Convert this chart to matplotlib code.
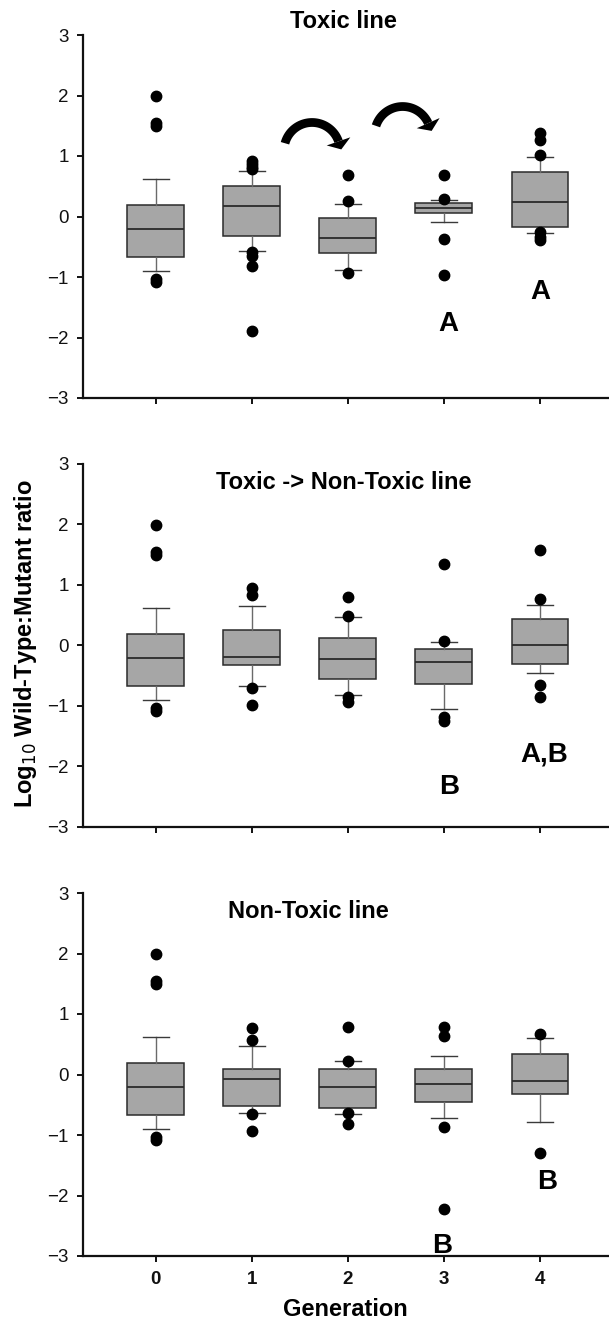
import numpy as np
import matplotlib.pyplot as plt

plt.rcParams['font.family'] = ['Liberation Sans', 'DejaVu Sans']

# Data
GENERATIONS = [0, 1, 2, 3, 4]
Y_TICKS = [-3, -2, -1, 0, 1, 2, 3]

TOX_MED = [-0.20, 0.18, -0.36, 0.14, 0.24]
TOX_Q1 = [-0.67, -0.33, -0.60, 0.05, -0.17]
TOX_Q3 = [0.19, 0.50, -0.02, 0.23, 0.74]
TOX_WLO = [-0.90, -0.57, -0.88, -0.09, -0.27]
TOX_WHI = [0.62, 0.75, 0.20, 0.27, 0.98]
TOX_OUT = [[1.99, 1.54, 1.50, -1.04, -1.09],
           [0.91, 0.86, 0.81, 0.78, -0.58, -0.66, -0.81, -1.90],
           [0.68, 0.25, -0.93],
           [0.69, 0.29, -0.37, -0.96],
           [1.38, 1.27, 1.01, -0.26, -0.34, -0.39]]

TNT_MED = [-0.20, -0.19, -0.22, -0.28, 0.01]
TNT_Q1 = [-0.67, -0.33, -0.56, -0.64, -0.30]
TNT_Q3 = [0.19, 0.25, 0.12, -0.06, 0.43]
TNT_WLO = [-0.90, -0.67, -0.81, -1.05, -0.45]
TNT_WHI = [0.62, 0.65, 0.47, 0.06, 0.67]
TNT_OUT = [[1.99, 1.54, 1.50, -1.04, -1.09],
           [0.95, 0.84, -0.71, -0.98],
           [0.80, 0.49, -0.85, -0.94],
           [1.34, 0.07, -1.19, -1.25],
           [1.58, 0.77, -0.66, -0.85]]

NT_MED = [-0.20, -0.08, -0.20, -0.15, -0.10]
NT_Q1 = [-0.67, -0.52, -0.55, -0.46, -0.33]
NT_Q3 = [0.19, 0.09, 0.09, 0.09, 0.34]
NT_WLO = [-0.90, -0.63, -0.66, -0.72, -0.79]
NT_WHI = [0.62, 0.47, 0.22, 0.30, 0.60]
NT_OUT = [[1.99, 1.54, 1.50, -1.04, -1.09],
          [0.77, 0.57, -0.66, -0.93],
          [0.79, 0.22, -0.64, -0.82],
          [0.79, 0.63, -0.87, -2.23],
          [0.67, -1.29]]

PANELS = [
    ("Toxic line", TOX_MED, TOX_Q1, TOX_Q3, TOX_WLO, TOX_WHI, TOX_OUT),
    ("Toxic -> Non-Toxic line", TNT_MED, TNT_Q1, TNT_Q3, TNT_WLO, TNT_WHI, TNT_OUT),
    ("Non-Toxic line", NT_MED, NT_Q1, NT_Q3, NT_WLO, NT_WHI, NT_OUT),
]

# letter annotations: (panel, x, y, text)
LETTERS = [
    (0, 3.05, -1.90, "A"), (0, 4.00, -1.36, "A"),
    (1, 3.06, -2.46, "B"), (1, 4.05, -1.92, "A,B"),
    (2, 2.98, -2.95, "B"), (2, 4.08, -1.90, "B"),
]
# title anchor (x, baseline y) per panel
TITLE_POS = [(1.96, 3.12), (1.96, 2.58), (1.59, 2.58)]
# curved arrows in the toxic panel: (centre in data, start angle, end angle)
ARROW_CENTRES = [(1.628, 1.091), (2.571, 1.355)]
ARROW_START = [165, 162]
ARROW_END = [19, 24]
ARROW_R = 28      # px
HEAD_LEN = 8.5    # px
HEAD_W = 25       # px

W, H = 609, 1320
fig = plt.figure(figsize=(W / 100, H / 100), dpi=100)

# axes pixel extents: left, top, bottom
LEFT_PX = 82.7
AX_PX = [(35, 398), (464, 827), (893, 1256)]

axes = []
for i, (title, med, q1, q3, wlo, whi, out) in enumerate(PANELS):
    top, bot = AX_PX[i]
    ax = fig.add_axes([LEFT_PX / W, 1 - bot / H, 1 - LEFT_PX / W, (bot - top) / H])
    stats = []
    for g in range(len(GENERATIONS)):
        stats.append(dict(med=med[g], q1=q1[g], q3=q3[g],
                          whislo=wlo[g], whishi=whi[g], fliers=out[g]))
    ax.bxp(stats, positions=GENERATIONS, widths=0.59, capwidths=0.27,
           patch_artist=True, showfliers=True,
           boxprops=dict(facecolor='#a6a6a6', edgecolor='#2b2b2b', linewidth=1.1),
           medianprops=dict(color='#2b2b2b', linewidth=1.3),
           whiskerprops=dict(color='#6a6a6a', linewidth=1.0),
           capprops=dict(color='#3a3a3a', linewidth=1.0),
           flierprops=dict(marker='o', markerfacecolor='black',
                           markeredgecolor='black', markersize=7.5,
                           linestyle='none'))
    ax.set_xlim(-0.76, 4.72)
    ax.set_ylim(-3, 3)
    ax.set_yticks(Y_TICKS)
    ax.set_xticks(GENERATIONS)
    for s in ['top', 'right']:
        ax.spines[s].set_visible(False)
    for s in ['left', 'bottom']:
        ax.spines[s].set_linewidth(1.6)
        ax.spines[s].set_color('#111111')
    ax.tick_params(direction='out', length=4, width=1.4, colors='#111111')
    ax.tick_params(axis='y', labelsize=13.5, pad=6)
    ax.tick_params(axis='x', labelsize=13.5, pad=7)
    if i < 2:
        ax.set_xticklabels([])
    else:
        ax.set_xticklabels([str(g) for g in GENERATIONS], fontweight='bold')
    tx, ty = TITLE_POS[i]
    ax.text(tx, ty, title, ha='center', va='baseline', fontsize=17,
            fontweight='bold', clip_on=False)
    axes.append(ax)

for p, x, y, t in LETTERS:
    axes[p].text(x, y, t, ha='center', va='baseline', fontsize=20,
                 fontweight='bold')

# curved arrows: circular arcs in pixel space, converted back to data
ax0 = axes[0]
to_px = ax0.transData
to_data = ax0.transData.inverted()
for c, a0, a1 in zip(ARROW_CENTRES, ARROW_START, ARROW_END):
    cx, cy = to_px.transform(c)
    th = np.radians(np.linspace(a0, a1, 60))
    arc = np.column_stack([cx + ARROW_R * np.cos(th), cy + ARROW_R * np.sin(th)])
    arc_d = to_data.transform(arc)
    ax0.plot(arc_d[:, 0], arc_d[:, 1], color='black', lw=6.3,
             solid_capstyle='butt')
    te = np.radians(a1)
    base = np.array([cx + ARROW_R * np.cos(te), cy + ARROW_R * np.sin(te)])
    tang = np.array([np.sin(te), -np.cos(te)])
    norm = np.array([np.cos(te), np.sin(te)])
    tri = np.array([base + HEAD_W / 2 * norm, base + HEAD_LEN * tang,
                    base - HEAD_W / 2 * norm])
    tri_d = to_data.transform(tri)
    ax0.fill(tri_d[:, 0], tri_d[:, 1], color='black', lw=0)

fig.text(26 / W, 1 - 644 / H, r"Log$_{10}$ Wild-Type:Mutant ratio", rotation=90,
         ha='center', va='center', fontsize=17, fontweight='bold')
fig.text(345.6 / W, 1 - 1316 / H, "Generation", ha='center', va='baseline',
         fontsize=17, fontweight='bold')

fig.savefig("out.png", dpi=100)
